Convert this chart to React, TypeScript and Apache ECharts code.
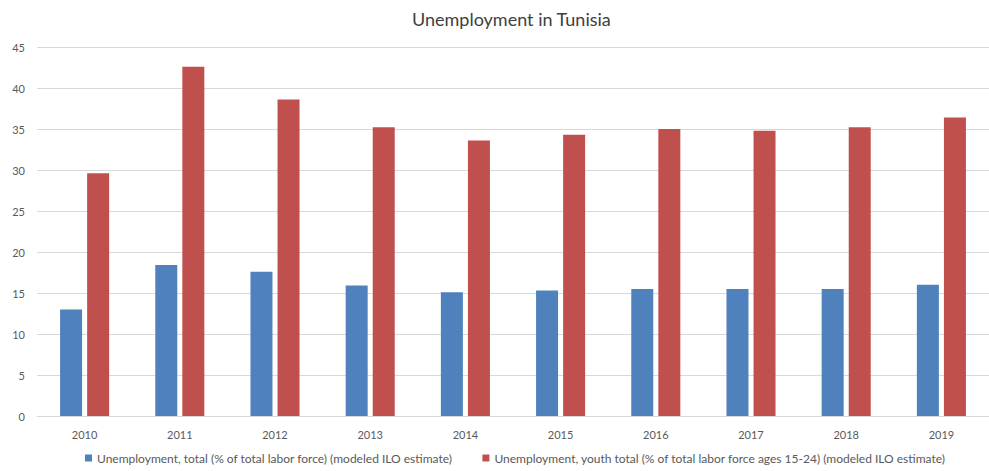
import React, { useEffect, useRef } from "react";
import * as echarts from "echarts";

const years = ["2010", "2011", "2012", "2013", "2014", "2015", "2016", "2017", "2018", "2019"];
const totalUnemployment = [13.0, 18.4, 17.6, 15.9, 15.1, 15.3, 15.5, 15.5, 15.5, 16.0];
const youthUnemployment = [29.6, 42.6, 38.6, 35.2, 33.6, 34.3, 35.0, 34.8, 35.2, 36.4];
const seriesNames = [
  "Unemployment, total (% of total labor force) (modeled ILO estimate)",
  "Unemployment, youth total (% of total labor force ages 15-24) (modeled ILO estimate)",
];

export default function App() {
  const ref = useRef<HTMLDivElement>(null);
  useEffect(() => {
    if (!ref.current) return;
    const chart = echarts.init(ref.current, undefined, { renderer: "svg" });
    const font = "Lato, 'Open Sans', sans-serif";
    chart.setOption({
      animation: false,
      backgroundColor: "#ffffff",
      textStyle: { fontFamily: font },
      title: {
        text: "Unemployment in Tunisia",
        left: 407,
        top: 5,
        textStyle: { fontFamily: font, fontSize: 18, fontWeight: "normal", color: "#404040" },
      },
      legend: {
        bottom: 2,
        left: 80,
        itemWidth: 7,
        itemHeight: 7,
        itemGap: 30,
        icon: "rect",
        textStyle: { fontFamily: font, fontSize: 12, color: "#595959" },
      },
      grid: { left: 37, top: 47, width: 967, height: 369, containLabel: false },
      xAxis: {
        type: "category",
        data: years,
        axisTick: { show: false },
        axisLine: { lineStyle: { color: "#d9d9d9" } },
        axisLabel: { color: "#595959", fontSize: 11, margin: 13, fontFamily: font },
      },
      yAxis: {
        type: "value",
        min: 0,
        max: 45,
        interval: 5,
        axisLine: { show: false },
        axisTick: { show: false },
        splitLine: { lineStyle: { color: "#d9d9d9" } },
        axisLabel: { color: "#595959", fontSize: 11, margin: 12, fontFamily: font },
      },
      series: [
        {
          name: seriesNames[0],
          type: "bar",
          data: totalUnemployment,
          barWidth: 22,
          barGap: "23%",
          itemStyle: { color: "#4f81bd" },
        },
        {
          name: seriesNames[1],
          type: "bar",
          data: youthUnemployment,
          barWidth: 22,
          barGap: "23%",
          itemStyle: { color: "#c0504d" },
        },
      ],
    });
    return () => chart.dispose();
  }, []);
  return (
    <div
      ref={ref}
      style={{ position: "fixed", left: 0, top: 0, width: 989, height: 471, overflow: "hidden" }}
    />
  );
}
